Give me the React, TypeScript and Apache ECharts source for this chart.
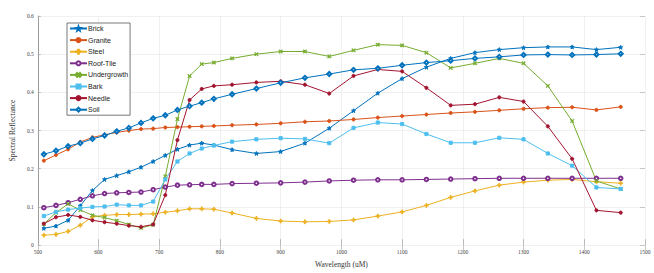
import React, { useEffect, useRef } from "react";
import * as echarts from "echarts";

const wavelengths = [
  510, 530, 550, 570, 590, 610, 630, 650, 670, 690, 710, 730, 750, 770, 790,
  820, 860, 900, 940, 980, 1020, 1060, 1100, 1140, 1180, 1220, 1260, 1300, 1340, 1380, 1420, 1460,
];

const brick = [
  0.044, 0.05, 0.065, 0.103, 0.143, 0.172, 0.182, 0.192, 0.204, 0.219, 0.235, 0.251, 0.262, 0.267, 0.262,
  0.25, 0.24, 0.245, 0.267, 0.306, 0.352, 0.398, 0.436, 0.466, 0.489, 0.504, 0.512, 0.517, 0.519, 0.519, 0.512, 0.518,
];
const granite = [
  0.221, 0.236, 0.251, 0.27, 0.282, 0.289, 0.295, 0.3, 0.304, 0.305, 0.308, 0.309, 0.31, 0.311, 0.312,
  0.314, 0.316, 0.319, 0.323, 0.325, 0.329, 0.334, 0.338, 0.342, 0.346, 0.349, 0.353, 0.357, 0.36, 0.361, 0.354, 0.362,
];
const steel = [
  0.026, 0.028, 0.036, 0.052, 0.074, 0.078, 0.08, 0.08, 0.081, 0.082, 0.086, 0.09, 0.095, 0.095, 0.094,
  0.084, 0.07, 0.063, 0.061, 0.062, 0.066, 0.076, 0.087, 0.104, 0.125, 0.142, 0.157, 0.165, 0.17, 0.172, 0.166, 0.162,
];
const roofTile = [
  0.098, 0.104, 0.111, 0.12, 0.129, 0.135, 0.137, 0.138, 0.139, 0.145, 0.152, 0.157, 0.158, 0.159, 0.159,
  0.161, 0.162, 0.163, 0.165, 0.168, 0.17, 0.171, 0.171, 0.172, 0.173, 0.174, 0.175, 0.175, 0.175, 0.175, 0.175, 0.175,
];
const undergrowth = [
  0.055, 0.085, 0.108, 0.092, 0.078, 0.072, 0.064, 0.054, 0.045, 0.053, 0.18, 0.33, 0.443, 0.474, 0.478,
  0.489, 0.5, 0.507, 0.507, 0.494, 0.51, 0.525, 0.523, 0.504, 0.464, 0.476, 0.489, 0.476, 0.417, 0.325, 0.168, 0.147,
];
const bark = [
  0.076, 0.087, 0.093, 0.097, 0.1, 0.101, 0.106, 0.104, 0.104, 0.114, 0.172, 0.219, 0.24, 0.253, 0.261,
  0.271, 0.277, 0.28, 0.278, 0.267, 0.307, 0.321, 0.317, 0.291, 0.268, 0.268, 0.281, 0.277, 0.24, 0.208, 0.151, 0.147,
];
const needle = [
  0.056, 0.073, 0.079, 0.074, 0.065, 0.06, 0.056, 0.051, 0.048, 0.054, 0.131, 0.275, 0.38, 0.409, 0.417,
  0.42, 0.426, 0.429, 0.42, 0.397, 0.443, 0.46, 0.455, 0.412, 0.366, 0.369, 0.387, 0.376, 0.311, 0.226, 0.091, 0.085,
];
const soil = [
  0.238, 0.247, 0.259, 0.267, 0.278, 0.287, 0.298, 0.307, 0.32, 0.332, 0.34, 0.354, 0.364, 0.373, 0.383,
  0.395, 0.41, 0.425, 0.438, 0.448, 0.459, 0.463, 0.471, 0.478, 0.483, 0.489, 0.493, 0.498, 0.499, 0.498, 0.499, 0.501,
];

const seriesNames = ["Brick", "Granite", "Steel", "Roof-Tile", "Undergrowth", "Bark", "Needle", "Soil"];
const seriesData = [brick, granite, steel, roofTile, undergrowth, bark, needle, soil];
const colors = ["#0072BD", "#D95319", "#EDB120", "#7E2F8E", "#77AC30", "#4DBEEE", "#A2142F", "#0072BD"];

const PLUS = "path://M4,0h2v4h4v2h-4v4h-2v-4h-4v-2h4z";
const CROSS = "path://M1.4,0L5,3.6L8.6,0L10,1.4L6.4,5L10,8.6L8.6,10L5,6.4L1.4,10L0,8.6L3.6,5L0,1.4z";
const STAR = "path://M5,0L6.2,3.4L10,3.6L7,6L8.1,10L5,7.7L1.9,10L3,6L0,3.6L3.8,3.4z";
const symbols = [STAR, "circle", PLUS, "emptyCircle", CROSS, "rect", "circle", "emptyDiamond"];
const symbolSizes = [4, 3.2, 4, 3.5, 3.5, 3.2, 3.2, 4];

export default function App() {
  const ref = useRef<HTMLDivElement>(null);
  useEffect(() => {
    if (!ref.current) return;
    const chart = echarts.init(ref.current, null, { renderer: "svg" });
    const serif = "Liberation Serif";
    chart.setOption({
      animation: false,
      backgroundColor: "#ffffff",
      grid: { left: 26, right: 9, top: 16, bottom: 22, containLabel: false },
      legend: {
        orient: "vertical",
        left: 67,
        top: 23,
        padding: [2, 2, 2, 2],
        itemGap: 4.6,
        itemWidth: 17,
        itemHeight: 5,
        backgroundColor: "#ffffff",
        borderColor: "#555555",
        borderWidth: 0.8,
        textStyle: { fontFamily: "Liberation Sans", fontSize: 7, color: "#222", lineHeight: 6, padding: [0, 0, 0, -4] },
        data: seriesNames,
      },
      xAxis: [
        {
          type: "value",
          min: 500,
          max: 1500,
          interval: 100,
          name: "Wavelength (uM)",
          nameLocation: "middle",
          nameGap: 13,
          nameTextStyle: { fontFamily: serif, fontSize: 7.5, color: "#333" },
          axisLine: { show: false },
          axisTick: { show: true, inside: true, length: 6, lineStyle: { color: "#aaaaaa", width: 0.8 } },
          axisLabel: { fontFamily: serif, fontSize: 5.5, color: "#444", margin: 4, formatter: (v: number) => String(v) },
          splitLine: { show: true, lineStyle: { color: "#ececec", width: 0.8 } },
        },
        {
          type: "value",
          position: "top",
          min: 500,
          max: 1500,
          interval: 100,
          axisLine: { show: false },
          axisTick: { show: true, inside: true, length: 5, lineStyle: { color: "#bbbbbb", width: 0.8 } },
          axisLabel: { show: false },
          splitLine: { show: false },
        },
      ],
      yAxis: [
        {
          type: "value",
          min: 0,
          max: 0.6,
          interval: 0.1,
          name: "Spectral Reflectance",
          nameLocation: "middle",
          nameGap: 15,
          nameTextStyle: { fontFamily: serif, fontSize: 7.5, color: "#333" },
          axisLine: { show: true, lineStyle: { color: "#888888", width: 0.8 } },
          axisTick: { show: true, inside: true, length: 3, lineStyle: { color: "#aaaaaa", width: 0.8 } },
          axisLabel: { fontFamily: serif, fontSize: 5.5, color: "#444", margin: 4 },
          splitLine: { show: true, lineStyle: { color: "#ececec", width: 0.8 } },
        },
        {
          type: "value",
          position: "right",
          min: 0,
          max: 0.6,
          interval: 0.1,
          axisLine: { show: false },
          axisTick: { show: true, inside: true, length: 5, lineStyle: { color: "#bbbbbb", width: 0.8 } },
          axisLabel: { show: false },
          splitLine: { show: false },
        },
      ],
      series: seriesNames.map((name, i) => ({
        name,
        type: "line",
        xAxisIndex: 0,
        yAxisIndex: 0,
        data: wavelengths.map((w, j) => [w, seriesData[i][j]]),
        color: colors[i],
        symbol: symbols[i],
        symbolSize: symbolSizes[i],
        showSymbol: true,
        lineStyle: { width: 1, color: colors[i] },
        itemStyle: { color: colors[i], borderColor: colors[i], borderWidth: 0.9 },
      })),
    });
    return () => chart.dispose();
  }, []);
  return (
    <div
      ref={ref}
      style={{ position: "fixed", left: 0, top: 0, width: 654, height: 273, background: "#fff" }}
    />
  );
}
